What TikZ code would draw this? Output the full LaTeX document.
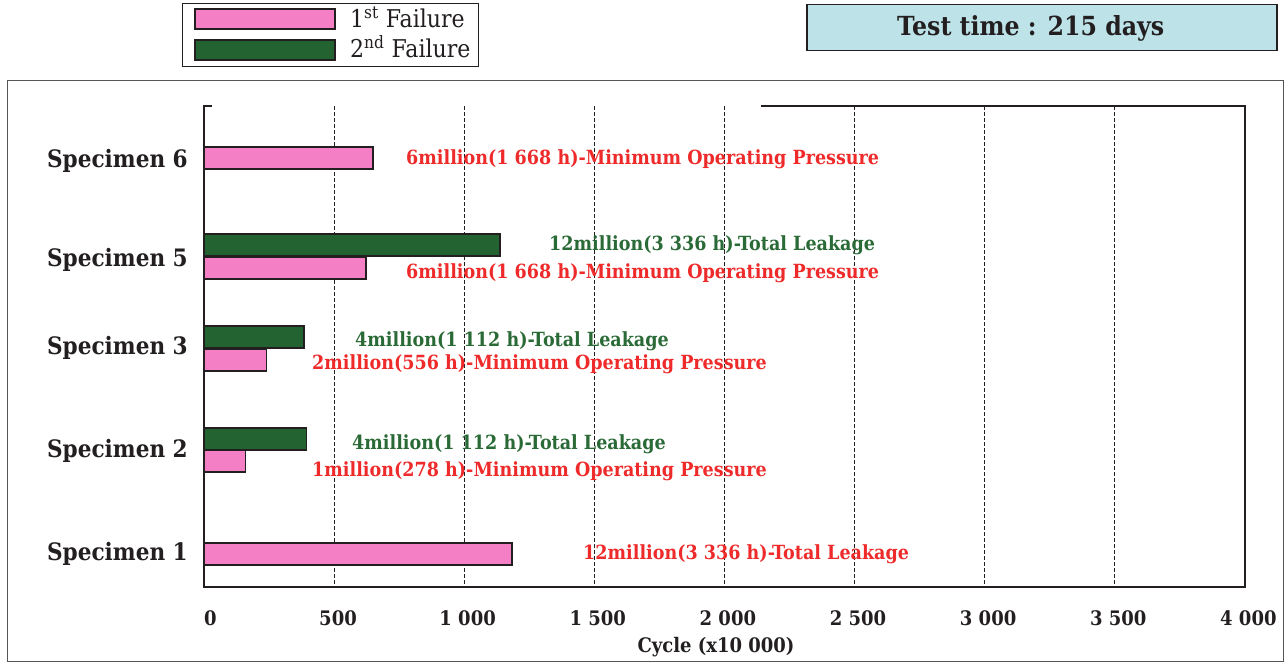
\documentclass[tikz,border=0pt]{standalone}
\usepackage{fontspec}
\setmainfont{DejaVu Serif}[FakeStretch=0.9]
\definecolor{pinkbar}{HTML}{F47FC4}
\definecolor{greenbar}{HTML}{236331}
\definecolor{redtxt}{HTML}{EE2A2A}
\definecolor{greentxt}{HTML}{2A6A36}
\definecolor{edge}{HTML}{231F20}
\definecolor{boxblue}{HTML}{BDE3E9}
\definecolor{framegray}{HTML}{555555}
\tikzset{
  first/.style={draw=edge, line width=1.3bp, fill=pinkbar},
  second/.style={draw=edge, line width=1.3bp, fill=greenbar},
  grid line/.style={draw=edge, line width=0.8bp, dash pattern=on 4bp off 2bp},
  axis line/.style={draw=edge, line width=1.2bp},
  spec/.style={anchor=mid east, inner sep=0pt, font=\fontsize{24bp}{28bp}\selectfont\bfseries, text=edge},
  redlab/.style={anchor=mid west, inner sep=0pt, font=\fontsize{19.5bp}{23bp}\selectfont\bfseries, text=redtxt},
  greenlab/.style={anchor=mid west, inner sep=0pt, font=\fontsize{19.5bp}{23bp}\selectfont\bfseries, text=greentxt},
  tick/.style={anchor=mid, inner sep=0pt, font=\fontsize{20bp}{24bp}\selectfont\bfseries, text=edge},
  legtext/.style={anchor=mid west, inner sep=0pt, font=\fontsize{24.5bp}{28bp}\selectfont, text=edge}
}
\begin{document}
\begin{tikzpicture}[x=1bp, y=-1bp]
\useasboundingbox (0,0) rectangle (1285,662);

% legend
\node[draw=edge, line width=1.2bp, minimum width=296bp, minimum height=63bp, anchor=north west, inner sep=0pt] (legend) at (182,3) {};
\draw[first] (195,9) rectangle (335,29);
\draw[second] (195,40) rectangle (335,60);
\node[legtext] (leg1) at (350,25) {1\textsuperscript{st} Failure};
\node[legtext] (leg2) at (350,55) {2\textsuperscript{nd} Failure};

% test duration box
\node[draw=edge, line width=1.5bp, fill=boxblue, minimum width=470bp, minimum height=46bp, anchor=north west, inner sep=0pt] (testbox) at (806,4) {};
\node[inner sep=0pt, font=\fontsize{26.3bp}{30bp}\selectfont\bfseries, text=edge] (testtime) at ([xshift=-11bp, yshift=-1bp]testbox.center) {Test time : 215 days};

% outer frame
\draw[draw=framegray, line width=1bp] (7,81) rectangle (1283,661);

% plot area in data units: x in cycles (x10 000), y in pixels
\begin{scope}[shift={(204,0)}, x=0.26025bp]
  \foreach \v in {500,1000,...,3500}
    \draw[grid line] (\v,106) -- (\v,587);
  \coordinate (topgap) at (30,106);
  \coordinate (topresume) at (2140,106);
  \draw[axis line] (topresume) -- (4000,106) -- (4000,587) -- (0,587) -- (0,106) -- (topgap);

  % bars
  \draw[first]  (0,147) rectangle (649,169);
  \draw[second] (0,234) rectangle (1137,256);
  \draw[first]  (0,257) rectangle (622,279);
  \draw[second] (0,326) rectangle (384,348);
  \draw[first]  (0,349) rectangle (241,371);
  \draw[second] (0,428) rectangle (394,450);
  \draw[first]  (0,450) rectangle (160,472);
  \draw[first]  (0,543) rectangle (1183,565);

  % axis numbers
  \node[tick] (t0) at (25,623) {0};
  \node[tick] (t1) at (515,623) {500};
  \node[tick] (t2) at (1013,623) {1~000};
  \node[tick] (t3) at (1513,623) {1~500};
  \node[tick] (t4) at (2013,623) {2~000};
  \node[tick] (t5) at (2513,623) {2~500};
  \node[tick] (t6) at (3013,623) {3~000};
  \node[tick] (t7) at (3513,623) {3~500};
  \node[tick] (t8) at (4013,623) {4~000};
\end{scope}
\node[tick] (xlabel) at (716,650) {Cycle (x10~000)};

% specimen names
\node[spec] (s6) at (188,165) {Specimen 6};
\node[spec] (s5) at (188,264) {Specimen 5};
\node[spec] (s3) at (188,352) {Specimen 3};
\node[spec] (s2) at (188,455) {Specimen 2};
\node[spec] (s1) at (188,558) {Specimen 1};

% failure notes
\node[redlab]   (n6)  at (406,162) {6million(1~668 h)-Minimum Operating Pressure};
\node[greenlab] (n5b) at (549,248) {12million(3~336 h)-Total Leakage};
\node[redlab]   (n5a) at (406,276) {6million(1~668 h)-Minimum Operating Pressure};
\node[greenlab] (n3b) at (355,344) {4million(1~112 h)-Total Leakage};
\node[redlab]   (n3a) at (312,367) {2million(556 h)-Minimum Operating Pressure};
\node[greenlab] (n2b) at (352,447) {4million(1~112 h)-Total Leakage};
\node[redlab]   (n2a) at (312,474) {1million(278 h)-Minimum Operating Pressure};
\node[redlab]   (n1)  at (583,557) {12million(3~336 h)-Total Leakage};
\end{tikzpicture}
\end{document}
